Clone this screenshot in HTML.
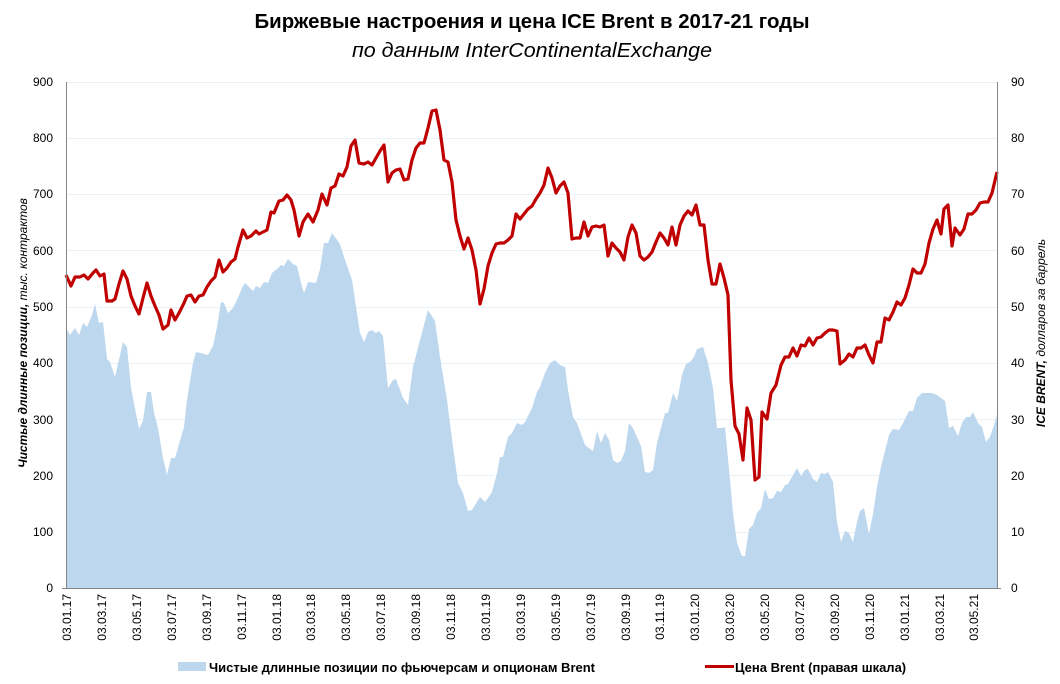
<!DOCTYPE html>
<html><head><meta charset="utf-8"><style>
html,body{margin:0;padding:0;background:#fff;}
svg{display:block;font-family:"Liberation Sans",Arial,sans-serif;}
</style></head><body>
<svg width="1060" height="684" viewBox="0 0 1060 684" xmlns="http://www.w3.org/2000/svg">
<text x="532" y="28" text-anchor="middle" font-size="20" font-weight="bold" fill="#000" textLength="555" lengthAdjust="spacingAndGlyphs">Биржевые настроения и цена ICE Brent в 2017-21 годы</text>
<text x="532" y="57" text-anchor="middle" font-size="20" font-style="italic" fill="#000" textLength="360" lengthAdjust="spacingAndGlyphs">по данным InterContinentalExchange</text>
<g stroke="#e9f1f9" stroke-width="1">
<line x1="66" x2="997" y1="82.5" y2="82.5"/><line x1="66" x2="997" y1="138.5" y2="138.5"/><line x1="66" x2="997" y1="194.5" y2="194.5"/><line x1="66" x2="997" y1="250.5" y2="250.5"/><line x1="66" x2="997" y1="307.5" y2="307.5"/><line x1="66" x2="997" y1="363.5" y2="363.5"/><line x1="66" x2="997" y1="419.5" y2="419.5"/><line x1="66" x2="997" y1="475.5" y2="475.5"/><line x1="66" x2="997" y1="532.5" y2="532.5"/>
</g>
<polygon fill="#bdd7ee" points="66,588 66,328 70,335 75,328 79,335 83,323 87,327 92,315 95,304 99,323 103,322 107,359 110,362 115,377 123,342 127,347 131,388 139,429 143,421 147,392 151,392 154,413 158,428 163,458 167,475 171,458 175,458 184,427 187,400 193,363 196,352 208,355 213,346 217,327 221,302 224,303 228,313 233,308 237,300 242,288 245,283 249,287 253,291 256,286 260,288 264,282 268,283 272,273 277,269 281,265 284,266 288,259 293,264 297,266 301,283 304,293 308,282 316,283 320,269 324,243 328,243 332,233 340,244 345,260 352,280 355,300 360,333 364,342 368,332 372,330 376,333 379,331 383,336 388,388 393,380 396,379 403,398 408,405 413,367 420,340 428,310 435,321 440,357 447,400 453,447 458,483 463,493 468,511 472,510 480,497 485,502 488,498 492,492 497,473 500,457 503,457 508,437 512,433 517,423 522,425 525,422 532,408 537,392 540,387 545,373 550,363 555,360 560,365 565,367 568,390 573,417 577,423 585,445 590,449 593,451 597,431 601,443 605,433 609,440 613,460 617,463 621,461 625,451 629,423 633,428 641,446 645,472 649,473 653,470 657,443 661,428 665,413 668,413 673,393 677,401 682,375 686,364 690,362 694,357 697,349 703,347 708,363 713,388 717,428 722,428 725,427 730,480 733,513 737,543 742,556 745,556 749,529 753,525 757,513 761,508 765,489 769,499 773,498 777,491 781,492 785,485 788,484 797,468 801,476 805,470 808,469 813,479 817,482 821,473 825,474 828,472 833,482 837,522 841,542 845,531 849,533 853,542 857,522 860,511 864,508 869,534 873,514 877,487 881,467 885,451 889,435 893,429 899,430 903,423 909,411 913,411 917,398 922,393 932,393 937,395 945,401 949,428 953,426 958,436 962,423 966,417 970,417 973,412 978,423 982,427 986,442 990,437 994,425 997,415 997,588"/>
<polyline fill="none" stroke="#c00000" stroke-width="3.2" stroke-linejoin="round" points="66,275 71,286 75,277 80,277 84,275 88,279 93,273 96,270 100,276 104,274 107,301 112,301 115,299 119,284 123,271 127,279 131,296 135,306 139,314 143,298 147,283 151,296 155,306 159,315 163,329 168,325 171,310 175,320 179,313 184,303 187,296 191,295 195,302 199,296 203,295 207,287 211,281 215,277 219,260 223,272 227,268 231,262 235,259 238,247 243,230 247,238 251,236 256,231 259,234 263,232 267,230 271,212 274,213 279,201 283,200 287,195 291,200 294,210 299,236 303,222 308,214 313,222 318,210 322,194 327,205 331,188 335,186 339,174 343,176 347,167 351,146 355,140 359,163 364,164 368,162 372,165 376,158 380,151 384,145 388,182 392,173 396,170 400,169 404,180 408,179 412,160 416,148 420,143 424,143 428,128 432,111 436,110 440,130 444,160 448,162 452,182 456,220 460,236 464,249 468,238 472,250 476,270 480,304 484,289 488,266 492,253 496,244 500,243 504,243 508,240 512,236 516,214 520,219 524,214 528,209 532,206 536,199 540,193 544,185 548,168 552,178 556,193 560,186 564,182 568,193 572,239 576,238 580,238 584,222 588,236 592,227 596,226 600,227 604,225 608,256 612,243 616,248 620,252 624,260 628,237 632,225 636,233 640,256 644,260 648,257 652,252 656,242 660,233 664,238 668,245 672,227 676,245 680,225 684,216 688,211 692,215 696,205 700,225 704,225 708,260 712,284 716,284 720,264 724,278 728,295 731,380 735,426 739,434 743,460 747,408 751,420 755,480 759,477 762,412 767,419 771,393 776,385 781,365 785,357 789,357 793,348 797,356 801,345 805,346 809,338 813,345 817,338 821,337 825,333 829,330 833,330 837,331 840,364 845,360 849,354 853,357 857,348 861,348 865,345 869,355 873,363 877,342 881,342 885,318 889,320 893,312 897,302 901,305 905,298 909,285 913,269 917,273 921,273 925,264 929,243 933,229 937,220 941,234 944,209 948,205 952,246 955,228 960,235 964,229 968,214 972,214 976,210 980,203 984,202 988,202 992,193 997,172"/>
<g stroke="#868686" stroke-width="1" fill="none">
<line x1="66.5" y1="82" x2="66.5" y2="589"/><line x1="997.5" y1="82" x2="997.5" y2="589"/><line x1="62" y1="588.5" x2="1001" y2="588.5"/>
</g>
<g font-size="12" fill="#000" text-anchor="end">
<text x="53" y="86">900</text><text x="53" y="142">800</text><text x="53" y="198">700</text><text x="53" y="255">600</text><text x="53" y="311">500</text><text x="53" y="367">400</text><text x="53" y="424">300</text><text x="53" y="480">200</text><text x="53" y="536">100</text><text x="53" y="592">0</text>
</g>
<g font-size="12" fill="#000" text-anchor="start">
<text x="1011" y="86">90</text><text x="1011" y="142">80</text><text x="1011" y="198">70</text><text x="1011" y="255">60</text><text x="1011" y="311">50</text><text x="1011" y="367">40</text><text x="1011" y="424">30</text><text x="1011" y="480">20</text><text x="1011" y="536">10</text><text x="1011" y="592">0</text>
</g>
<text transform="translate(27,333) rotate(-90)" text-anchor="middle" font-size="12" font-weight="bold" font-style="italic">Чистые длинные позиции, <tspan font-weight="normal">тыс. контрактов</tspan></text>
<text transform="translate(1045,333) rotate(-90)" text-anchor="middle" font-size="12" font-weight="bold" font-style="italic">ICE BRENT, <tspan font-weight="normal">долларов за баррель</tspan></text>
<g font-size="12" fill="#000" text-anchor="end">
<text transform="translate(71,594) rotate(-90)">03.01.17</text><text transform="translate(106,594) rotate(-90)">03.03.17</text><text transform="translate(141,594) rotate(-90)">03.05.17</text><text transform="translate(176,594) rotate(-90)">03.07.17</text><text transform="translate(211,594) rotate(-90)">03.09.17</text><text transform="translate(246,594) rotate(-90)">03.11.17</text><text transform="translate(281,594) rotate(-90)">03.01.18</text><text transform="translate(315,594) rotate(-90)">03.03.18</text><text transform="translate(350,594) rotate(-90)">03.05.18</text><text transform="translate(385,594) rotate(-90)">03.07.18</text><text transform="translate(420,594) rotate(-90)">03.09.18</text><text transform="translate(455,594) rotate(-90)">03.11.18</text><text transform="translate(490,594) rotate(-90)">03.01.19</text><text transform="translate(525,594) rotate(-90)">03.03.19</text><text transform="translate(560,594) rotate(-90)">03.05.19</text><text transform="translate(595,594) rotate(-90)">03.07.19</text><text transform="translate(630,594) rotate(-90)">03.09.19</text><text transform="translate(664,594) rotate(-90)">03.11.19</text><text transform="translate(699,594) rotate(-90)">03.01.20</text><text transform="translate(734,594) rotate(-90)">03.03.20</text><text transform="translate(769,594) rotate(-90)">03.05.20</text><text transform="translate(804,594) rotate(-90)">03.07.20</text><text transform="translate(839,594) rotate(-90)">03.09.20</text><text transform="translate(874,594) rotate(-90)">03.11.20</text><text transform="translate(909,594) rotate(-90)">03.01.21</text><text transform="translate(944,594) rotate(-90)">03.03.21</text><text transform="translate(978,594) rotate(-90)">03.05.21</text>
</g>
<rect x="178" y="662" width="28" height="9" fill="#bdd7ee"/>
<text x="209" y="672" font-size="13" font-weight="bold">Чистые длинные позиции по фьючерсам и опционам Brent</text>
<line x1="705" y1="666.5" x2="734" y2="666.5" stroke="#c00000" stroke-width="3"/>
<text x="735" y="672" font-size="13" font-weight="bold">Цена Brent (правая шкала)</text>
</svg>
</body></html>
